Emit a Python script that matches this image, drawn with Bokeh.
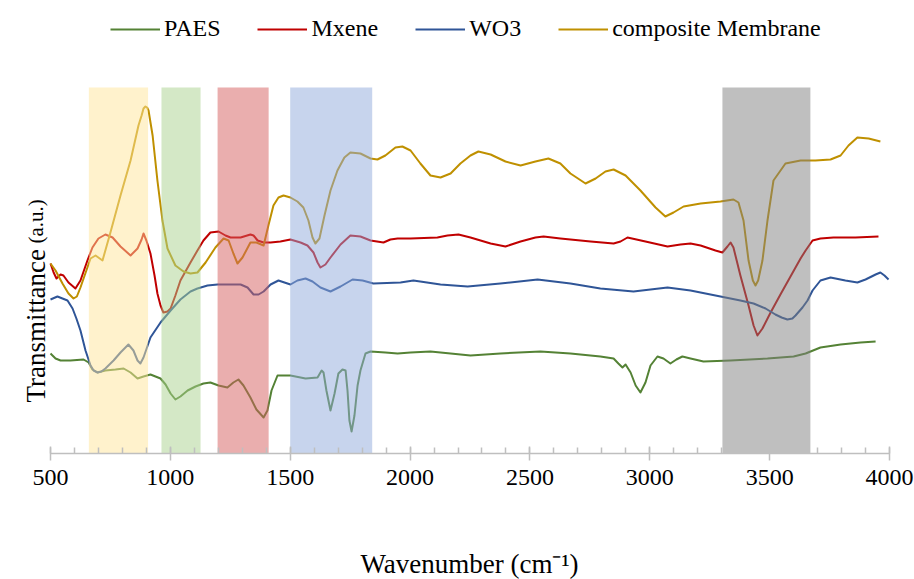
from bokeh.plotting import figure
from bokeh.models import Legend, LegendItem, Range1d, SingleIntervalTicker
from bokeh.core.properties import value
from bokeh.embed import file_html
from bokeh.resources import INLINE
import math

# FTIR spectra (wavenumber in cm^-1, transmittance in arbitrary units, offset per sample)
paes_wn = [500, 521, 542, 583, 638, 659, 675, 696, 729, 771, 805, 834, 863, 888, 917, 938, 959, 980,
           1001, 1021, 1042, 1072, 1105, 1138, 1167, 1201, 1238, 1263, 1284, 1305, 1334, 1359, 1389,
           1405, 1422, 1447, 1501, 1564, 1614, 1631, 1639, 1651, 1668, 1685, 1701, 1718, 1731, 1739,
           1747, 1756, 1768, 1781, 1793, 1814, 1835, 1897, 1948, 2002, 2085, 2169, 2252, 2377, 2544,
           2669, 2794, 2849, 2869, 2886, 2899, 2920, 2941, 2961, 2982, 3003, 3032, 3057, 3086, 3111,
           3136, 3170, 3224, 3337, 3491, 3600, 3650, 3712, 3796, 3879, 3942]
paes_t = [100, 95, 93, 93, 94, 91, 84, 81, 83, 84, 85, 81, 75, 77, 79, 77, 75, 69,
          60, 54, 57, 63, 67, 70, 71, 68, 66, 71, 74, 68, 56, 44, 36,
          43, 63, 78, 78, 75, 76, 83, 81, 63, 43, 60, 80, 84, 83, 63,
          33, 22, 38, 68, 83, 100, 102, 101, 100, 101, 102, 100, 98, 100, 102,
          100, 97, 95, 90, 86, 89, 81, 68, 61, 71, 88, 97, 95, 90, 94,
          97, 95, 92, 93, 95, 97, 100, 106, 109, 111, 112]

mxene_wn = [500, 513, 525, 542, 554, 575, 604, 625, 654, 675, 700, 729, 759, 792, 834, 863, 880, 888, 900,
            917, 934, 946, 959, 971, 988, 1001, 1021, 1042, 1084, 1113, 1138, 1167, 1201, 1230, 1251,
            1293, 1334, 1347, 1364, 1389, 1418, 1459, 1501, 1543, 1572, 1597, 1614, 1626, 1647, 1668,
            1710, 1751, 1793, 1835, 1889, 1918, 1948, 2002, 2114, 2156, 2202, 2252, 2336, 2398, 2461,
            2523, 2557, 2627, 2753, 2849, 2878, 2907, 2982, 3074, 3128, 3170, 3212, 3274, 3303, 3324,
            3337, 3349, 3378, 3412, 3433, 3449, 3470, 3504, 3545, 3587, 3629, 3650, 3679, 3712, 3766,
            3858, 3954]
mxene_t = [190, 181, 175, 179, 178, 171, 165, 173, 193, 206, 215, 219, 216, 207, 198, 205, 214, 220, 213,
           200, 178, 160, 148, 141, 142, 145, 158, 173, 191, 203, 213, 221, 222, 218, 216,
           216, 219, 218, 213, 211, 211, 212, 214, 211, 208, 201, 191, 186, 189, 196,
           209, 218, 217, 213, 211, 214, 215, 215, 216, 218, 219, 216, 210, 207, 212,
           216, 217, 215, 212, 210, 212, 216, 212, 207, 209, 210, 208, 203, 201, 207,
           211, 206, 178, 148, 128, 118, 125, 141, 159, 177, 195, 203, 213, 215, 216,
           216, 217]

wo3_wn = [500, 529, 550, 571, 592, 608, 625, 646, 667, 680, 696, 712, 729, 763, 792, 825, 846, 863, 875, 888,
          917, 959, 1001, 1042, 1084, 1113, 1155, 1197, 1251, 1293, 1322, 1347, 1368, 1389, 1418,
          1451, 1476, 1501, 1530, 1564, 1593, 1626, 1668, 1710, 1760, 1802, 1847, 1960, 2014, 2127,
          2240, 2377, 2532, 2669, 2794, 2932, 3003, 3074, 3170, 3295, 3378, 3433, 3483, 3524, 3550, 3574,
          3595, 3608, 3637, 3658, 3679, 3712, 3754, 3816, 3866, 3900, 3942, 3962, 3979, 3996]
wo3_t = [154, 157, 155, 153, 145, 135, 123, 103, 88, 83, 81, 82, 85, 93, 101, 109, 103, 93, 90, 96,
         116, 131, 143, 154, 162, 165, 168, 169, 169, 169, 166, 159, 159, 162, 169,
         173, 171, 169, 173, 175, 172, 166, 162, 167, 174, 173, 170, 171, 173, 169,
         167, 170, 174, 170, 165, 162, 164, 166, 163, 157, 153, 150, 145, 139, 136, 134,
         135, 138, 146, 153, 163, 173, 176, 173, 171, 174, 179, 181, 178, 174]

comp_wn = [500, 521, 550, 575, 596, 610, 625, 667, 688, 717, 750, 792, 834, 867, 880, 888, 896, 903, 909, 926,
           946, 967, 988, 1021, 1055, 1084, 1113, 1147, 1188, 1222, 1243, 1263, 1280, 1301, 1334, 1359, 1389,
           1409, 1430, 1451, 1472, 1501, 1530, 1555, 1576, 1593, 1605, 1622, 1643, 1668, 1697, 1726,
           1751, 1793, 1835, 1864, 1897, 1939, 1968, 2002, 2043, 2085, 2127, 2169, 2210, 2252, 2285,
           2336, 2398, 2461, 2523, 2577, 2627, 2669, 2732, 2774, 2815, 2849, 2899, 2961, 3024, 3065,
           3099, 3141, 3212, 3295, 3349, 3370, 3391, 3412, 3430, 3441, 3452, 3470, 3491, 3516, 3566, 3629, 3691,
           3754, 3796, 3829, 3866, 3913, 3962]
comp_t = [190, 183, 170, 160, 155, 157, 166, 195, 198, 193, 221, 258, 293, 328, 338, 345, 347, 346, 343, 318,
          273, 233, 205, 188, 182, 180, 181, 191, 206, 215, 213, 200, 190, 196, 211, 211, 208,
          228, 248, 256, 258, 256, 252, 246, 233, 216, 210, 215, 238, 263, 283, 296,
          301, 300, 295, 294, 298, 306, 307, 303, 290, 278, 276, 280, 290, 298, 302,
          299, 292, 288, 292, 295, 290, 280, 270, 275, 282, 284, 278, 263, 246, 237,
          241, 247, 250, 252, 254, 251, 233, 193, 173, 168, 173, 193, 233, 273, 290, 293, 293,
          294, 298, 308, 316, 315, 312]

# highlighted absorption regions (cm^-1)
band_start = [660, 963, 1197, 1500, 3303]
band_end = [907, 1126, 1410, 1842, 3670]
band_top = 366

series_names = ["PAES", "Mxene", "WO3", "composite Membrane"]
line_colors = ["#548235", "#C00000", "#2F5597", "#BF9000"]
band_colors = ["#FFE699", "#A9D18E", "#D65D5D", "#8FAADC", "#808080"]

SERIF = "Liberation Serif"
W, H = 914, 579

# The frame covers the whole canvas; the x axis is pinned at transmittance 0
# and the titles are drawn as text inside the frame.
AXIS_LEFT_PX, AXIS_RIGHT_PX, AXIS_Y_PX = 50, 889, 453
x_lo, x_hi = 500, 4000
per_px = (x_hi - x_lo) / (AXIS_RIGHT_PX - AXIS_LEFT_PX)


def xpx(px):
    return x_lo + (px - AXIS_LEFT_PX) * per_px


def ypx(py):
    return AXIS_Y_PX - py


p = figure(width=W, height=H, output_backend="svg", toolbar_location=None,
           x_range=Range1d(xpx(0), xpx(W)), y_range=Range1d(ypx(H), ypx(0)),
           min_border=0)
p.outline_line_color = None
p.xgrid.visible = False
p.ygrid.visible = False
p.yaxis.visible = False
p.background_fill_color = "white"
p.border_fill_color = "white"

renderers = []
for wn, t, c in zip([paes_wn, mxene_wn, wo3_wn, comp_wn], [paes_t, mxene_t, wo3_t, comp_t], line_colors):
    r = p.line(wn, t, line_color=c, line_width=2, line_join="round")
    renderers.append(r)

# translucent bands on top of the spectra
p.quad(left=band_start, right=band_end, bottom=0, top=band_top,
       fill_color=band_colors, fill_alpha=0.5, line_color=None)

legend = Legend(items=[LegendItem(label=n, renderers=[r]) for n, r in zip(series_names, renderers)],
                orientation="horizontal", location=(110, H - 42),
                border_line_color=None, background_fill_alpha=0,
                label_text_font=SERIF, label_text_font_size="24px", label_text_color="black",
                glyph_width=50, glyph_height=20, label_standoff=4, spacing=37,
                padding=0, margin=0, label_height=24)
p.add_layout(legend)

ax = p.xaxis[0]
ax.fixed_location = 0
ax.ticker = SingleIntervalTicker(interval=500, num_minor_ticks=5)
ax.bounds = (x_lo, x_hi)
ax.axis_line_color = "#BFBFBF"
ax.axis_line_width = 1.5
ax.major_tick_line_color = "#BFBFBF"
ax.major_tick_line_width = 1.5
ax.minor_tick_line_color = "#BFBFBF"
ax.minor_tick_line_width = 1.5
ax.major_tick_in = 7
ax.major_tick_out = 7
ax.minor_tick_in = 6
ax.minor_tick_out = 0
ax.major_label_text_font = SERIF
ax.major_label_text_font_size = "24px"
ax.major_label_text_color = "black"
ax.major_label_standoff = 9

# axis titles
p.text(x=[xpx(469)], y=[ypx(563)], text=["Wavenumber (cm\u207b\u00b9)"],
       text_font=value(SERIF), text_font_size="27px", text_color="black",
       text_align="center", text_baseline="middle")
p.text(x=[xpx(35)], y=[ypx(402)], text=["Transmittance"], angle=math.pi / 2,
       text_font=value(SERIF), text_font_size="27px", text_color="black",
       text_align="left", text_baseline="alphabetic")
p.text(x=[xpx(35)], y=[ypx(243)], text=["(a.u.)"], angle=math.pi / 2,
       text_font=value(SERIF), text_font_size="21px", text_color="black",
       text_align="left", text_baseline="alphabetic")

open("out.html", "w").write(file_html(p, INLINE))
